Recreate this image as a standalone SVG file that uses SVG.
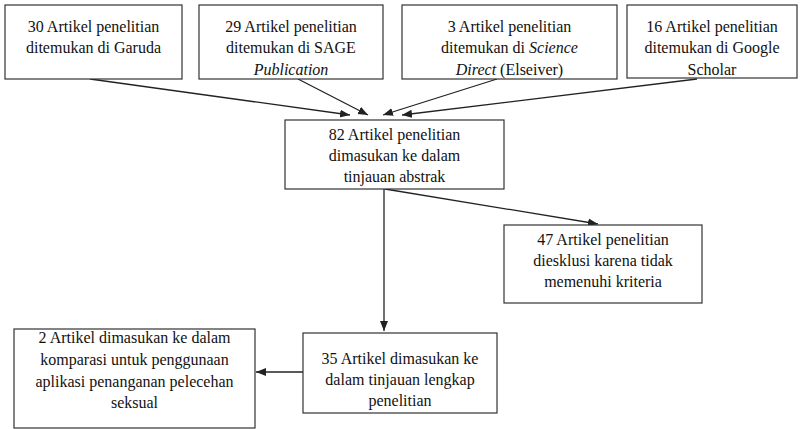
<svg xmlns="http://www.w3.org/2000/svg" width="802" height="429" viewBox="0 0 802 429">
<defs>
<marker id="ah" viewBox="0 0 10 10" refX="10" refY="5" markerWidth="10" markerHeight="10" markerUnits="userSpaceOnUse" orient="auto">
<path d="M0,1 L10,5 L0,9 z" fill="#222"/>
</marker>
</defs>
<style>
.box{fill:#fff;stroke:#333;stroke-width:1.2}
.lbl{font-family:'Liberation Serif','Times New Roman',serif;font-size:16px;fill:#111;text-anchor:middle}
.c{stroke:#222;stroke-width:1.3;fill:none;marker-end:url(#ah)}
</style>
<rect width="802" height="429" fill="#fff"/>
<g id="connectors">
<line class="c" x1="90" y1="79" x2="350" y2="115"/>
<line class="c" x1="298" y1="79" x2="368" y2="115"/>
<line class="c" x1="497" y1="79" x2="383" y2="115"/>
<line class="c" x1="697" y1="79" x2="402" y2="115"/>
<line class="c" x1="385" y1="189" x2="598" y2="224"/>
<line class="c" x1="384" y1="189" x2="384" y2="331"/>
<line class="c" x1="303" y1="372" x2="256" y2="372"/>
</g>
<g id="n1">
<rect class="box" x="5" y="5" width="177" height="74"/>
<text class="lbl" x="93.5" y="32">30 Artikel penelitian</text>
<text class="lbl" x="93.5" y="53">ditemukan di Garuda</text>
</g>
<g id="n2">
<rect class="box" x="199" y="5" width="184" height="74"/>
<text class="lbl" x="291" y="32">29 Artikel penelitian</text>
<text class="lbl" x="291" y="53">ditemukan di SAGE</text>
<text class="lbl" x="291" y="75" font-style="italic">Publication</text>
</g>
<g id="n3">
<rect class="box" x="402" y="5" width="215" height="74"/>
<text class="lbl" x="509.5" y="32">3 Artikel penelitian</text>
<text class="lbl" x="509.5" y="53">ditemukan di <tspan font-style="italic">Science</tspan></text>
<text class="lbl" x="509.5" y="75"><tspan font-style="italic">Direct</tspan> (Elseiver)</text>
</g>
<g id="n4">
<rect class="box" x="627" y="5" width="170" height="73"/>
<text class="lbl" x="712" y="32">16 Artikel penelitian</text>
<text class="lbl" x="712" y="53">ditemukan di Google</text>
<text class="lbl" x="712" y="75">Scholar</text>
</g>
<g id="n5">
<rect class="box" x="285" y="120" width="219" height="69"/>
<text class="lbl" x="394.5" y="140">82 Artikel penelitian</text>
<text class="lbl" x="394.5" y="161">dimasukan ke dalam</text>
<text class="lbl" x="394.5" y="182">tinjauan abstrak</text>
</g>
<g id="n6">
<rect class="box" x="504" y="225" width="198" height="78"/>
<text class="lbl" x="603" y="245">47 Artikel penelitian</text>
<text class="lbl" x="603" y="266">diesklusi karena tidak</text>
<text class="lbl" x="603" y="287">memenuhi kriteria</text>
</g>
<g id="n7">
<rect class="box" x="303" y="333" width="194" height="80"/>
<text class="lbl" x="400" y="364">35 Artikel dimasukan ke</text>
<text class="lbl" x="400" y="385">dalam tinjauan lengkap</text>
<text class="lbl" x="400" y="406">penelitian</text>
</g>
<g id="n8">
<rect class="box" x="14" y="329" width="241" height="99"/>
<text class="lbl" x="134.5" y="343">2 Artikel dimasukan ke dalam</text>
<text class="lbl" x="134.5" y="365">komparasi untuk penggunaan</text>
<text class="lbl" x="134.5" y="387">aplikasi penanganan pelecehan</text>
<text class="lbl" x="134.5" y="408">seksual</text>
</g>
</svg>
